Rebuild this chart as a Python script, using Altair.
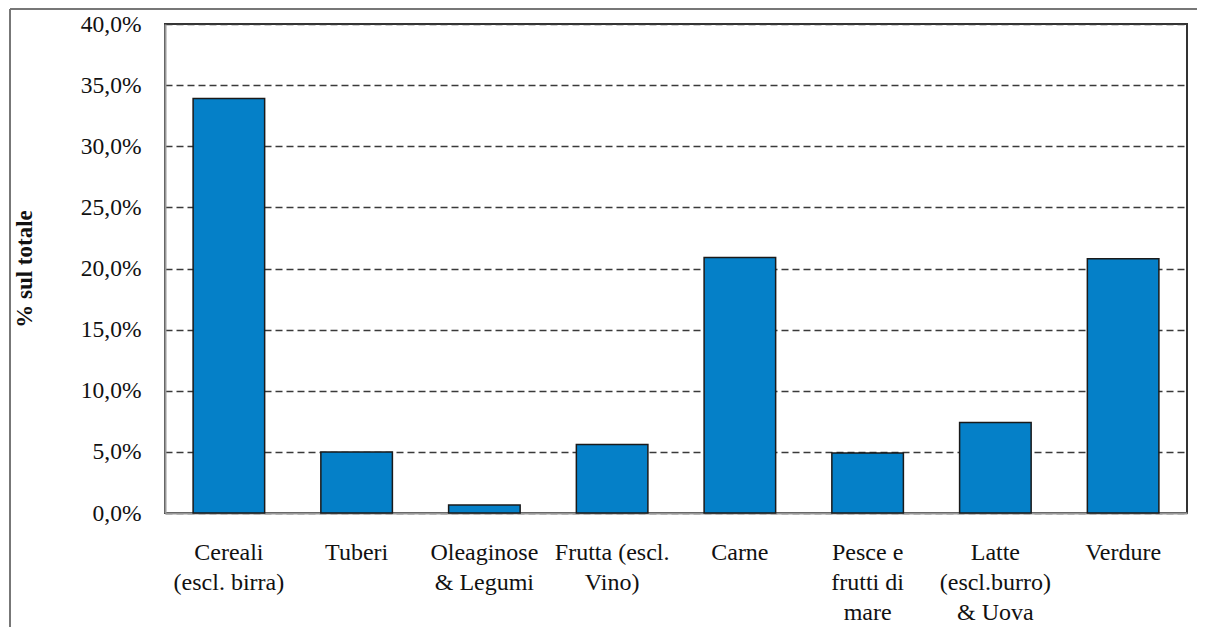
import altair as alt
import pandas as pd

categories = [
    "Cereali|(escl. birra)",
    "Tuberi",
    "Oleaginose|& Legumi",
    "Frutta (escl.|Vino)",
    "Carne",
    "Pesce e|frutti di|mare",
    "Latte|(escl.burro)|& Uova",
    "Verdure",
]
values = [0.339, 0.050, 0.0065, 0.056, 0.209, 0.049, 0.074, 0.208]
y_ticks = [0, 0.05, 0.10, 0.15, 0.20, 0.25, 0.30, 0.35, 0.40]

df = pd.DataFrame({"cat": categories, "val": values})

FONT = "'Liberation Serif', 'Times New Roman', Times, 'DejaVu Serif', serif"

bars = alt.Chart(df).mark_bar(
    color="#0580C8", stroke="#1a1a1a", strokeWidth=1.5
).encode(
    x=alt.X(
        "cat:N",
        sort=categories,
        title=None,
        scale=alt.Scale(paddingInner=0.44, paddingOuter=0.22),
        axis=alt.Axis(
            labelExpr="split(datum.label, '|')",
            labelAngle=0,
            labelFont=FONT,
            labelFontSize=24,
            labelColor="#111111",
            labelLineHeight=30,
            labelPadding=27,
            ticks=False,
            domainColor="#999999",
            domainWidth=2,
            grid=False,
            labelLimit=0,
        ),
    ),
    y=alt.Y(
        "val:Q",
        title="% sul totale",
        scale=alt.Scale(domain=[0, 0.40], nice=False),
        axis=alt.Axis(
            values=y_ticks,
            labelExpr="replace(format(datum.value, '.1%'), '.', ',')",
            labelFont=FONT,
            labelFontSize=23.5,
            labelColor="#111111",
            labelPadding=24,
            ticks=False,
            domainColor="#999999",
            domainWidth=2,
            grid=True,
            gridColor="#3a3a3a",
            gridDash=[7, 4],
            gridWidth=1.6,
            titleFont=FONT,
            titleFontSize=23,
            titleFontWeight="bold",
            titleColor="#111111",
            titlePadding=44,
        ),
    ),
)

frame_left = alt.Chart(df).mark_rule(color="#777777", strokeWidth=2).encode(
    x=alt.value(-155), y=alt.value(-15), y2=alt.value(640)
)
frame_top = alt.Chart(df).mark_rule(color="#777777", strokeWidth=2).encode(
    x=alt.value(-155), x2=alt.value(1040), y=alt.value(-15)
)

chart = alt.layer(bars, frame_left, frame_top).properties(
    width=1022,
    height=489,
    autosize=alt.AutoSizeParams(type="none"),
    padding={"left": 157, "top": 16, "right": 10, "bottom": 114},
).configure(
    background="white", font=FONT
).configure_axis(
    labelFont=FONT, titleFont=FONT
).configure_view(
    stroke="#333333", strokeWidth=2
)

chart.save("out.html", embed_options={"renderer": "svg", "actions": False})
